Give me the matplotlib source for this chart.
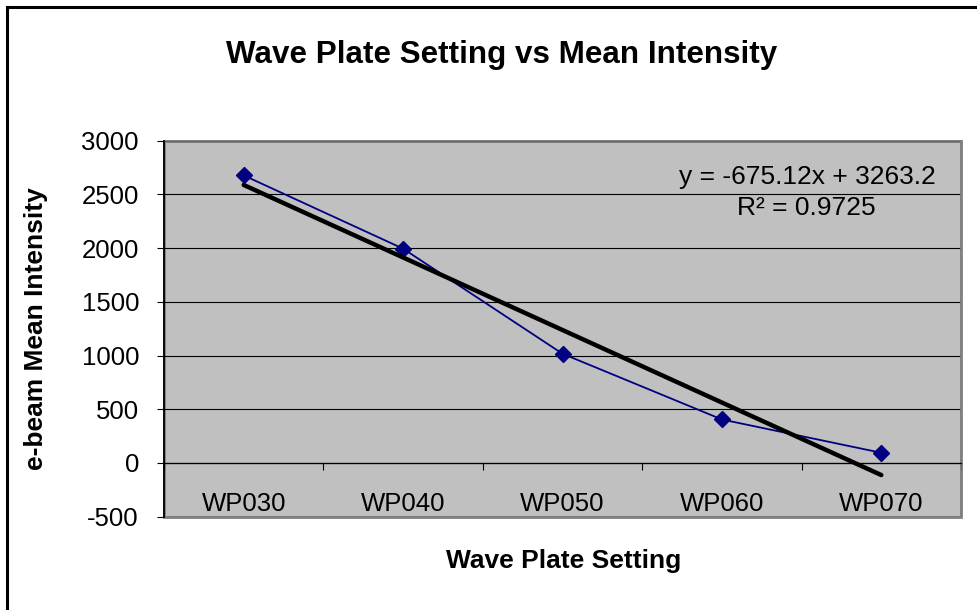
import matplotlib.pyplot as plt
from matplotlib.patches import Rectangle

plt.rcParams["font.family"] = ["Liberation Sans", "DejaVu Sans"]
plt.rcParams["axes.unicode_minus"] = False

settings = ["WP030", "WP040", "WP050", "WP060", "WP070"]
mean_intensity = [2677, 1995, 1017, 405, 95]

# linear trendline as reported on the chart
slope = -675.12
intercept = 3263.2
r_squared = 0.9725

x = list(range(1, len(settings) + 1))
trend = [slope * xi + intercept for xi in x]

fig = plt.figure(figsize=(9.77, 6.10), dpi=100)
ax = fig.add_axes([164 / 977, 93.3 / 610, 797 / 977, 376 / 610])

ax.set_facecolor("#c0c0c0")
ax.set_xlim(0.5, len(settings) + 0.5)
ax.set_ylim(-500, 3000)
ax.set_yticks(range(-500, 3001, 500))
ax.yaxis.grid(True, color="black", linewidth=0.8)
ax.set_axisbelow(True)

# category axis crosses at zero
ax.spines["bottom"].set_position(("data", 0))
ax.spines["bottom"].set_color("black")
ax.spines["bottom"].set_linewidth(0.9)
ax.spines["left"].set_color("black")
ax.spines["left"].set_linewidth(1.3)
ax.spines["left"].set_zorder(3)
for side in ["top", "right"]:
    ax.spines[side].set_color("#808080")
    ax.spines[side].set_linewidth(1.2)
ax.add_patch(Rectangle((0, 0), 1, 1, transform=ax.transAxes, fill=False,
                       edgecolor="#808080", linewidth=2.0, zorder=0.5, clip_on=False))

ax.set_xticks(x)
ax.set_xticklabels(settings)
ax.set_xticks([i + 0.5 for i in range(0, len(settings) + 1)], minor=True)
ax.tick_params(axis="x", which="major", length=0, pad=21, labelsize=18.5)
ax.tick_params(axis="x", which="minor", direction="out", length=5, width=0.8)
ax.tick_params(axis="y", direction="out", length=5, width=0.8, pad=13, labelsize=18.5)

ax.plot(x, mean_intensity, color="#000080", linewidth=1.3, marker="D",
        markersize=8, zorder=3, clip_on=False)
ax.plot(x, trend, color="black", linewidth=3.2, solid_capstyle="round", zorder=4,
        clip_on=False)

fig.text(807 / 977, 1 - 177 / 610, f"y = {slope}x + {intercept}", ha="center",
         va="center", fontsize=19)
fig.text(806 / 977, 1 - 208 / 610, f"R² = {r_squared}", ha="center", va="center",
         fontsize=19)

fig.text(502 / 977, 1 - 55 / 610, "Wave Plate Setting vs Mean Intensity", ha="center",
         va="center", fontsize=22.6, fontweight="bold")
fig.text(563.5 / 977, 1 - 561 / 610, "Wave Plate Setting", ha="center", va="center",
         fontsize=19, fontweight="bold")
fig.text(36 / 977, 1 - 329 / 610, "e-beam Mean Intensity", ha="center", va="center",
         rotation=90, fontsize=19, fontweight="bold")

# outer chart frame
fig.patches.append(Rectangle((6.5 / 977, -0.05), 1.1, 1 - 7 / 610 + 0.05,
                             transform=fig.transFigure, fill=False,
                             edgecolor="black", linewidth=2.2))

fig.savefig("out.png", dpi=100)
